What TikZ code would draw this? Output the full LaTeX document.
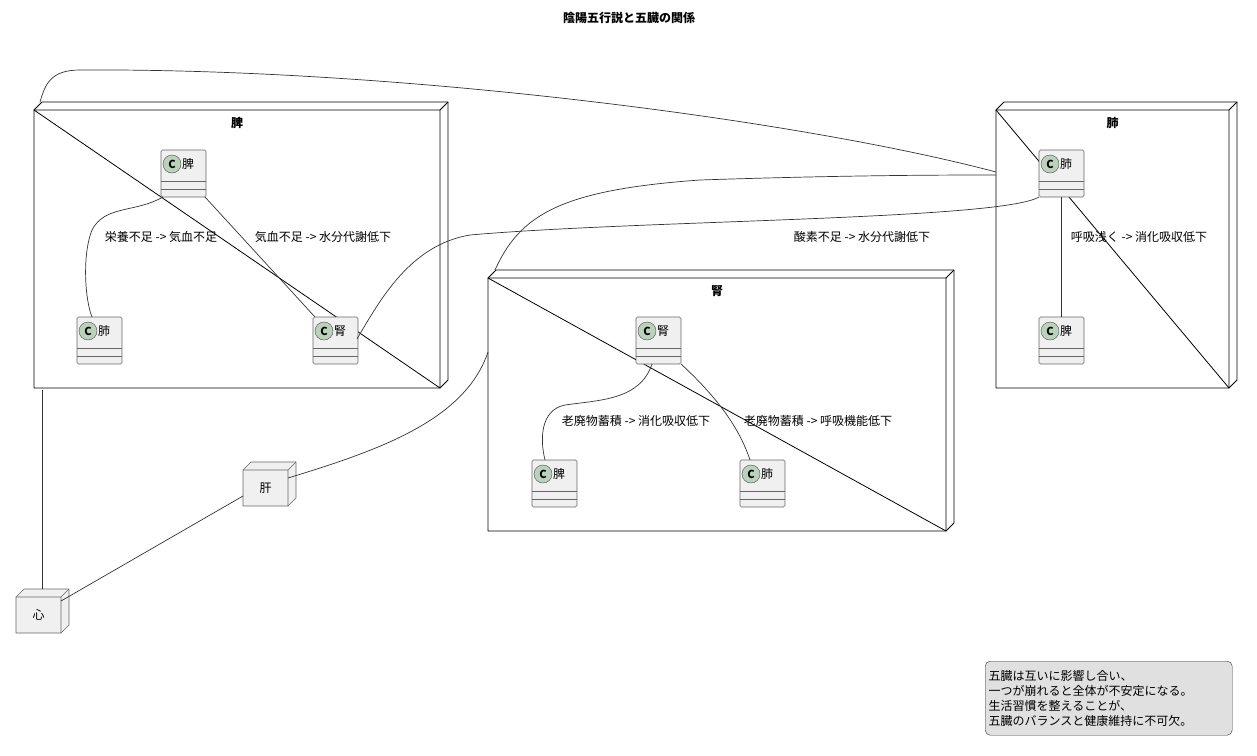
\documentclass[tikz,border=0pt]{standalone}
\usepackage{fontspec}
\setmainfont{Noto Sans CJK JP}
\begin{document}
\begin{tikzpicture}[x=1pt,y=-1pt,line join=round,
  lbl/.style={font=\fontsize{12}{14}\selectfont,inner sep=1pt},
  ttl/.style={font=\fontsize{12}{14}\selectfont\bfseries,inner sep=0pt},
  edge/.style={draw=black!80,line width=0.7pt}]
\useasboundingbox (0,0) rectangle (1257,755);
\def\mycls#1#2#3#4{% name, x, y, label
  \draw[fill=black!6,draw=black!60,rounded corners=1.5pt,line width=0.6pt] (#2,#3) rectangle ++(45,47);
  \draw[black!60,line width=0.6pt] (#2,#3+31) -- ++(45,0) (#2,#3+39) -- ++(45,0);
  \draw[fill=green!20!gray!45,draw=black!70] (#2+11,#3+14) circle (9);
  \node[font=\fontsize{11}{12}\selectfont\bfseries,inner sep=0pt] at (#2+11,#3+14.5) {C};
  \node[lbl,anchor=west,inner sep=0pt] at (#2+21,#3+14) {#4};
  \coordinate (#1) at (#2+22.5,#3+23.5);}
\def\mypkg#1#2#3#4#5#6{% name x1 y1 x2 y2 label
  \draw[line width=0.8pt,fill=white] (#2,#3) -- (#2+8,#3-8) -- (#4+8,#3-8) -- (#4+8,#5-8) -- (#4,#5) -- cycle;
  \draw[line width=0.8pt] (#2,#3) rectangle (#4,#5) (#4,#3) -- (#4+8,#3-8);
  \node[ttl] at ({(#2+#4)/2},#3+13) {#6};
  \coordinate (#1) at ({(#2+#4)/2},{(#3+#5)/2});}
\def\mycube#1#2#3#4{% name x y label
  \draw[fill=black!6,draw=black!60,line width=0.6pt] (#2,#3) -- (#2+8,#3-8) -- (#2+53,#3-8) -- (#2+53,#3+28) -- (#2+45,#3+36) -- (#2,#3+36) -- cycle;
  \draw[black!60,line width=0.6pt] (#2,#3) -- (#2+45,#3) -- (#2+45,#3+36) (#2+45,#3) -- (#2+53,#3-8);
  \node[lbl] (#1) at (#2+22.5,#3+18) {#4};}

\node[ttl] (title) at (629,18) {陰陽五行説と五臓の関係};

\mypkg{nHi}{34}{110}{440}{388}{脾}
\mypkg{nHai}{996}{110}{1229}{388}{肺}
\mypkg{nJin}{488}{278}{946}{531}{腎}

\mycls{aHi}{161}{150}{脾}
\mycls{aHai}{77}{317}{肺}
\mycls{aJin}{313}{317}{腎}
\mycls{bHai}{1039}{150}{肺}
\mycls{bHi}{1039}{317}{脾}
\mycls{cJin}{636}{317}{腎}
\mycls{cHi}{532}{460}{脾}
\mycls{cHai}{740}{460}{肺}

\mycube{kan}{243}{470}{肝}
\mycube{shin}{16}{597}{心}

\draw[edge] (163,197) .. controls (135,213) and (105,205) .. (92,230) .. controls (82,255) and (85,300) .. (92,317);
\node[lbl] at (161,237) {栄養不足 -> 気血不足};
\draw[edge] (205,197) -- (315,317);
\node[lbl] at (323,237) {気血不足 -> 水分代謝低下};
\draw[edge] (1061,197) -- (1061,317);
\node[lbl] at (1139,237) {呼吸浅く -> 消化吸収低下};
\draw[edge] (652,364) .. controls (640,400) and (600,400) .. (565,405) .. controls (540,410) and (540,440) .. (545,460);
\node[lbl] at (636,421) {老廃物蓄積 -> 消化吸収低下};
\draw[edge] (681,364) .. controls (720,400) and (740,430) .. (750,460);
\node[lbl] at (818,421) {老廃物蓄積 -> 呼吸機能低下};
\draw[edge] (1039,197) .. controls (1000,220) and (640,220) .. (470,235) .. controls (410,245) and (380,300) .. (357,339);
\node[lbl] at (862,237) {酸素不足 -> 水分代謝低下};

\draw[edge] (40,102) .. controls (45,85) and (50,70) .. (80,70) .. controls (400,68) and (800,120) .. (996,172);
\draw[edge] (495,270) .. controls (520,215) and (560,190) .. (700,180) .. controls (850,175) and (950,175) .. (996,175);
\draw[edge] (42,390) -- (42,589);
\draw[edge] (288,478) .. controls (380,450) and (465,420) .. (488,352);
\draw[edge] (243,496) -- (61,601);

\node[draw=black!80,fill=black!12,rounded corners=5pt,align=left,anchor=north west,
  font=\fontsize{12}{15}\selectfont,inner sep=3pt,minimum width=247pt,minimum height=74pt,text width=240pt] (note) at (985,661)
 {五臓は互いに影響し合い、\\一つが崩れると全体が不安定になる。\\生活習慣を整えることが、\\五臓のバランスと健康維持に不可欠。};
\end{tikzpicture}
\end{document}
